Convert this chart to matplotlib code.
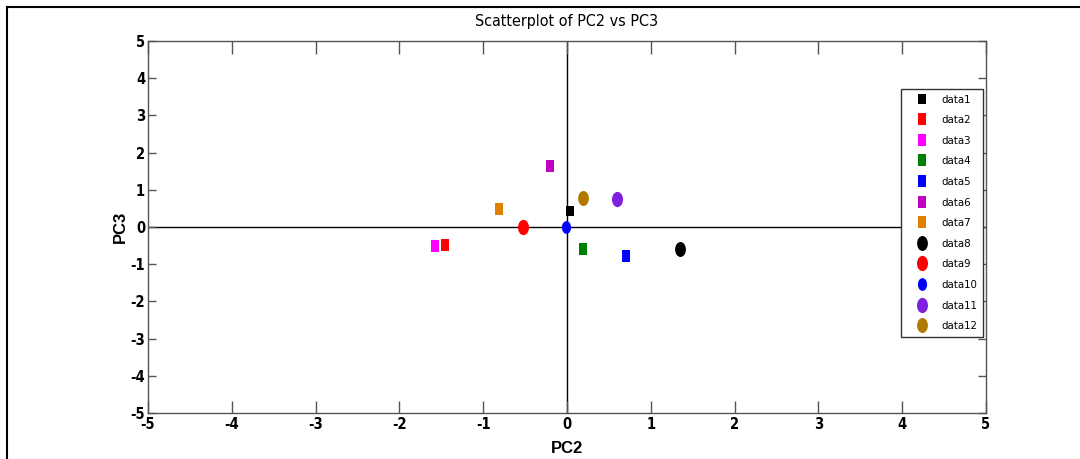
import matplotlib
matplotlib.use('Agg')
import matplotlib.pyplot as plt
from matplotlib import font_manager
from matplotlib.path import Path
from matplotlib.transforms import Affine2D
from matplotlib.lines import Line2D

# values
labels = ['data1', 'data2', 'data3', 'data4', 'data5', 'data6',
          'data7', 'data8', 'data9', 'data10', 'data11', 'data12']
pc2 = [0.04, -1.45, -1.57, 0.19, 0.70, -0.20, -0.81, 1.35, -0.53, -0.01, 0.60, 0.19]
pc3 = [0.42, -0.48, -0.51, -0.59, -0.77, 1.63, 0.48, -0.60, -0.01, 0.01, 0.76, 0.79]
colors = ['#000000', '#ff0000', '#ff00ff', '#008000', '#0000ff', '#bf00bf',
          '#df8000', '#000000', '#ff0000', '#0000ff', '#7f1fdf', '#b07a00']
shapes = ['s'] * 7 + ['o'] * 5
sizes = [7.5, 8.8, 8.8, 8.8, 8.8, 8.8, 8.8, 10.8, 11.0, 9.2, 11.0, 10.8]

# look for a narrow face, the original uses a condensed Arial-like font
fonts = font_manager.fontManager.ttflist
have = {f.name for f in fonts}
narrow_ok = False
stretch = 'normal'
if 'Liberation Sans Narrow' in have:
    family = ['Liberation Sans Narrow', 'DejaVu Sans']
    narrow_ok = True
elif any(f.name == 'DejaVu Sans' and f.stretch == 'condensed' for f in fonts):
    family = ['DejaVu Sans']
    stretch = 'condensed'
    narrow_ok = True
else:
    family = ['Liberation Sans', 'DejaVu Sans']
plt.rcParams['font.family'] = family
plt.rcParams['font.stretch'] = stretch
plt.rcParams['axes.unicode_minus'] = False

tick_fs = 10.5 if narrow_ok else 10
title_fs = 11.5 if narrow_ok else 11
leg_fs = 8.2 if narrow_ok else 7.5

# the original image is stretched vertically, so markers are taller than wide
sq_path = Path([(-0.36, -0.5), (0.36, -0.5), (0.36, 0.5), (-0.36, 0.5), (-0.36, -0.5)],
               [Path.MOVETO, Path.LINETO, Path.LINETO, Path.LINETO, Path.CLOSEPOLY])
circ_path = Path.unit_circle().transformed(Affine2D().scale(0.72, 1.0))
marker_for = {'s': sq_path, 'o': circ_path}

fig = plt.figure(figsize=(10.8, 4.59), dpi=100)
ax = fig.add_axes([0.137, 0.1002, 0.776, 0.8105])

# crosshair through the origin
ax.axhline(0, color='black', lw=1.0, zorder=1)
ax.axvline(0, color='black', lw=1.0, zorder=1)

for i in range(len(labels)):
    ax.plot(pc2[i], pc3[i], linestyle='none', marker=marker_for[shapes[i]],
            markersize=sizes[i], color=colors[i], markeredgewidth=0,
            label=labels[i], zorder=3)

ax.set_xlim(-5, 5)
ax.set_ylim(-5, 5)
ax.set_xticks(range(-5, 6))
ax.set_yticks(range(-5, 6))

for s in ax.spines.values():
    s.set_color('#555555')
    s.set_linewidth(1.0)
ax.tick_params(axis='both', direction='in', top=True, right=True,
               color='#555555', width=1.0, labelsize=tick_fs)
ax.tick_params(axis='x', length=9, pad=3)
ax.tick_params(axis='y', length=6, pad=2)
for t in ax.get_xticklabels() + ax.get_yticklabels():
    t.set_fontweight('bold')

ax.set_title('Scatterplot of PC2 vs PC3', fontsize=title_fs, pad=11)
ax.set_xlabel('PC2', fontsize=12, fontweight='bold', family='Liberation Sans',
              stretch='normal', labelpad=6)
ax.set_ylabel('PC3', fontsize=12, fontweight='bold', family='Liberation Sans',
              stretch='normal', labelpad=2)

leg = ax.legend(loc='upper left', bbox_to_anchor=(0.898, 0.871), borderaxespad=0,
                fontsize=leg_fs, numpoints=1, handlelength=2.7, handletextpad=0.35,
                labelspacing=0.93, borderpad=0.5, fancybox=False, framealpha=1)
leg.get_frame().set_edgecolor('#333333')
leg.get_frame().set_linewidth(1.0)

# outer frame of the figure (top and left edges visible in the original)
fig.add_artist(Line2D([7 / 1080, 1.0], [1 - 7 / 459, 1 - 7 / 459],
                      transform=fig.transFigure, color='black', lw=1.5))
fig.add_artist(Line2D([7 / 1080, 7 / 1080], [0.0, 1 - 7 / 459],
                      transform=fig.transFigure, color='black', lw=1.5))

fig.savefig('out.png', dpi=100)
